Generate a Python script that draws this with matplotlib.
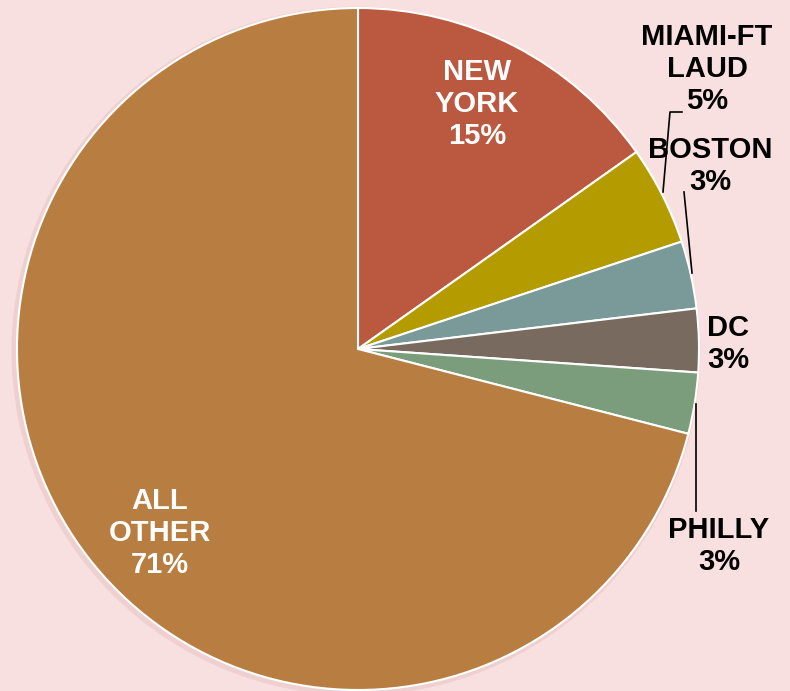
import matplotlib
matplotlib.use("Agg")
import matplotlib.pyplot as plt
from matplotlib.patches import Circle

# data (percent of total)
markets = ["NEW\nYORK", "MIAMI-FT\nLAUD", "BOSTON", "DC", "PHILLY", "ALL\nOTHER"]
shares = [15.2, 4.7, 3.2, 3.0, 2.9, 71.0]
colors = ["#BA5840", "#B39B00", "#7A9A9A", "#786A5F", "#7C9D7B", "#B87D40"]

bg = "#F9E0E0"
W, H = 790, 691
cx, cy, R = 358, 349, 341  # pie centre / radius in pixels

fig = plt.figure(figsize=(W / 100, H / 100), dpi=100, facecolor=bg)
ax = fig.add_axes([0, 0, 1, 1])
ax.set_facecolor(bg)

# soft shadow behind the pie
ax.add_patch(Circle((-0.006, -0.006), 1.008, color="#EFD0D0", zorder=0))

wedges, _ = ax.pie(shares, colors=colors, startangle=90, counterclock=False,
                   radius=1.0, wedgeprops=dict(edgecolor="white", linewidth=1.5))
for w in wedges:
    w.set_zorder(1)

ax.set_xlim(-cx / R, (W - cx) / R)
ax.set_ylim(-(H - cy) / R, cy / R)
ax.set_aspect("equal")
ax.axis("off")

def px(x, y):
    return (x - cx) / R, (cy - y) / R

# label anchor points in pixels and text colour
label_pos = [(477, 104), (707, 69), (710, 166), (728, 344), (719, 546), (160, 533)]
label_col = ["white", "black", "black", "black", "black", "white"]

for name, v, (lx, ly), c in zip(markets, shares, label_pos, label_col):
    ax.text(*px(lx, ly), f"{name}\n{v:.0f}%", ha="center", va="center",
            color=c, fontsize=21, fontweight="bold", family="Liberation Sans",
            linespacing=1.2, zorder=5)

# leader lines
leaders = [
    [(663, 192), (670, 112), (682, 112)],
    [(684, 192), (692, 273)],
    [(696, 404), (696, 511)],
]
for pts in leaders:
    xs, ys = zip(*[px(x, y) for x, y in pts])
    ax.plot(xs, ys, color="black", lw=1.2, zorder=4)

fig.savefig("out.png", dpi=100, facecolor=bg)
